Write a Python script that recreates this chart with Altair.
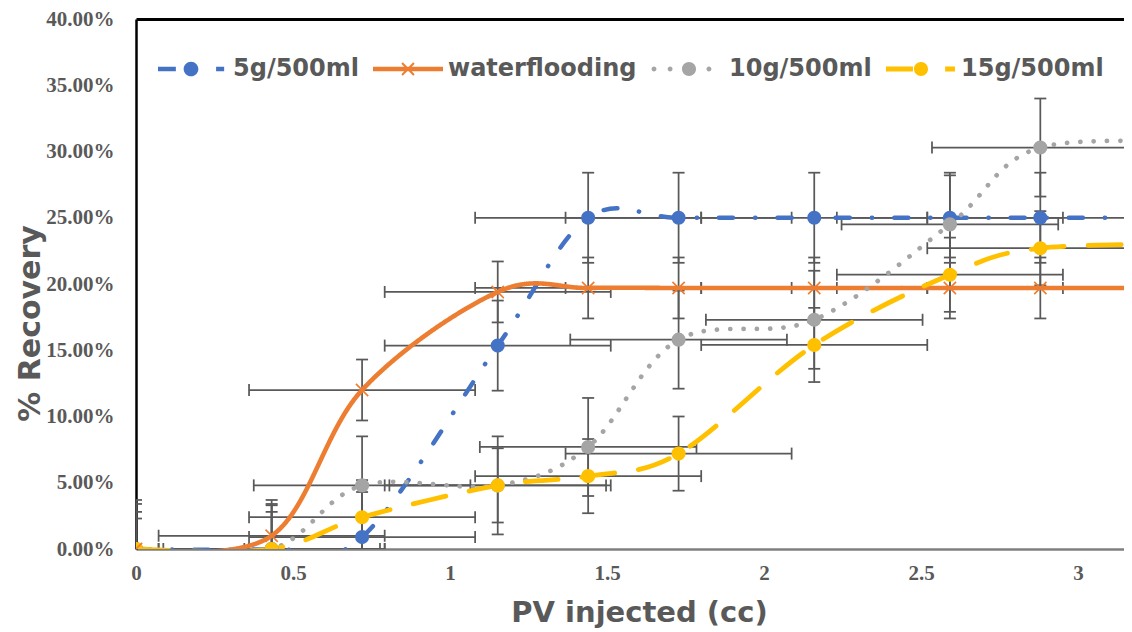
import altair as alt
import pandas as pd

# ---------------- data ----------------
pv_injected = [0, 0.432, 0.72, 1.152, 1.44, 1.728, 2.16, 2.592, 2.88, 3.456]
series_names = ["5g/500ml", "waterflooding", "10g/500ml", "15g/500ml"]
rec_5g = [0, 0, 0.9, 15.35, 25.0, 25.0, 25.0, 25.0, 25.0, 25.0]
rec_water = [0, 1.0, 12.0, 19.4, 19.7, 19.7, 19.7, 19.7, 19.7, 19.7]
rec_10g = [0, 0, 4.8, 4.8, 7.7, 15.8, 17.3, 24.5, 30.3, 30.5]
rec_15g = [0, 0, 2.4, 4.8, 5.5, 7.2, 15.4, 20.7, 22.7, 23.0]
x_error = [0.36, 0.36, 0.345, 0.36]          # +/- PV
y_error = [3.4, 2.3, 3.7, 2.8]               # +/- % recovery
x_ticks = [0, 0.5, 1, 1.5, 2, 2.5, 3]
y_ticks = [0, 0.05, 0.10, 0.15, 0.20, 0.25, 0.30, 0.35, 0.40]

# ---------------- styles ----------------
colors = ["#4472C4", "#ED7D31", "#A5A5A5", "#FFC000"]
dashes = [[14, 22, 0.3, 22], [1, 0], [0.1, 13.2], [33, 24]]
widths = [4.5, 4.8, 5, 5]
# legend symbols (line + marker), unit = half symbol width
legend_paths = [
    "M-1,-0.064L-0.49,-0.064L-0.49,0.064L-1,0.064Z"
    "M-0.267,0A0.21,0.21,0,1,1,0.153,0A0.21,0.21,0,1,1,-0.267,0Z"
    "M0.66,-0.064L0.89,-0.064L0.89,0.064L0.66,0.064Z",
    "M-1,-0.064L1,-0.064L1,0.064L-1,0.064Z"
    "M-0.19,-0.15L-0.15,-0.19L0.19,0.15L0.15,0.19Z"
    "M-0.19,0.15L0.15,-0.19L0.19,-0.15L-0.15,0.19Z",
    "M-1.07,0A0.07,0.07,0,1,1,-0.93,0A0.07,0.07,0,1,1,-1.07,0Z"
    "M-0.61,0A0.07,0.07,0,1,1,-0.47,0A0.07,0.07,0,1,1,-0.61,0Z"
    "M-0.2,0A0.2,0.2,0,1,1,0.2,0A0.2,0.2,0,1,1,-0.2,0Z"
    "M0.5,0A0.07,0.07,0,1,1,0.64,0A0.07,0.07,0,1,1,0.5,0Z",
    "M-1,-0.07L-0.23,-0.07L-0.23,0.07L-1,0.07Z"
    "M-0.2,0A0.2,0.2,0,1,1,0.2,0A0.2,0.2,0,1,1,-0.2,0Z"
    "M0.69,-0.07L0.97,-0.07L0.97,0.07L0.69,0.07Z",
]

rows = []
for name, vals, xe, ye in zip(series_names, [rec_5g, rec_water, rec_10g, rec_15g], x_error, y_error):
    for xv, yv in zip(pv_injected, vals):
        rows.append({"series": name, "x": xv, "y": yv / 100.0, "xerr": xe, "yerr": ye / 100.0})
df = pd.DataFrame(rows)

GREY_TXT = "#595959"
EB = "#595959"
PLOT_W = 988
X_MAX = PLOT_W / 314.0

xscale = alt.Scale(domain=[0, X_MAX], nice=False, zero=False)
yscale = alt.Scale(domain=[0, 0.40], nice=False)
color_scale = alt.Scale(domain=series_names, range=colors)

bottom_axis = alt.Axis(
    orient="bottom", values=x_ticks, format="~g", ticks=False, grid=False,
    labelFont="Liberation Serif", labelFontWeight="bold", labelFontSize=21,
    labelColor=GREY_TXT, labelPadding=13, labelFlush=False, labelOverlap=False,
    domainColor="#7f7f7f", domainWidth=2.5,
    title="PV injected (cc)", titleFont="DejaVu Sans", titleFontWeight="bold",
    titleFontSize=29, titleColor=GREY_TXT, titleX=503, titleY=72,
    titleBaseline="alphabetic", titleAlign="center",
)
left_axis = alt.Axis(
    orient="left", values=y_ticks, format=".2%", ticks=False, grid=False,
    labelFont="Liberation Serif", labelFontWeight="bold", labelFontSize=21,
    labelColor=GREY_TXT, labelPadding=22, labelOverlap=False,
    domainColor="black", domainWidth=2.5,
    title="% Recovery", titleFont="DejaVu Sans", titleFontWeight="bold",
    titleFontSize=30, titleColor=GREY_TXT, titleX=-106, titleY=304,
    titleAngle=270, titleBaseline="middle", titleAlign="center",
)
top_axis = alt.Axis(orient="top", labels=False, ticks=False, grid=False,
                    domainColor="black", domainWidth=3, title=None)

base = alt.Chart(df)
pts = base.transform_filter("datum.x < 3.1")
with_err = pts.transform_calculate(
    x_lo="datum.x - datum.xerr", x_hi="datum.x + datum.xerr",
    y_lo="datum.y - datum.yerr", y_hi="datum.y + datum.yerr",
)

err_h = with_err.mark_rule(color=EB, strokeWidth=1.75, clip=True).encode(
    x=alt.X("x_lo:Q", scale=xscale, axis=bottom_axis),
    x2="x_hi:Q",
    y=alt.Y("y:Q", scale=yscale, axis=left_axis),
)
cap_h = with_err.transform_fold(["x_lo", "x_hi"], as_=["end", "xe"]).mark_rule(
    color=EB, strokeWidth=1.75, clip=True, yOffset=-6, y2Offset=6
).encode(
    x=alt.X("xe:Q", scale=xscale, axis=None),
    y=alt.Y("y:Q", scale=yscale, axis=None),
    y2="y:Q",
)
err_v = with_err.mark_rule(color=EB, strokeWidth=1.75, clip=True).encode(
    x=alt.X("x:Q", scale=xscale, axis=None),
    y=alt.Y("y_lo:Q", scale=yscale, axis=None),
    y2="y_hi:Q",
)
cap_v = with_err.transform_fold(["y_lo", "y_hi"], as_=["end", "ye"]).mark_rule(
    color=EB, strokeWidth=1.75, clip=True, xOffset=-6, x2Offset=6
).encode(
    x=alt.X("x:Q", scale=xscale, axis=None),
    x2="x:Q",
    y=alt.Y("ye:Q", scale=yscale, axis=None),
)

lines = base.mark_line(interpolate="cardinal", strokeCap="round", clip=True).encode(
    x=alt.X("x:Q", scale=xscale, axis=None),
    y=alt.Y("y:Q", scale=yscale, axis=None),
    color=alt.Color("series:N", scale=color_scale, legend=None),
    strokeDash=alt.StrokeDash("series:N", scale=alt.Scale(domain=series_names, range=dashes), legend=None),
    strokeWidth=alt.StrokeWidth("series:N", scale=alt.Scale(domain=series_names, range=widths), legend=None),
)

circles = pts.transform_filter(alt.datum.series != "waterflooding").mark_circle(
    size=200, opacity=1, clip=True
).encode(
    x=alt.X("x:Q", scale=xscale, axis=None),
    y=alt.Y("y:Q", scale=yscale, axis=None),
    color=alt.Color("series:N", scale=color_scale, legend=None),
)
crosses = pts.transform_filter(alt.datum.series == "waterflooding").mark_point(
    shape="M-1,-1L1,1M-1,1L1,-1", size=150, filled=False, strokeWidth=1.6, opacity=1, clip=True
).encode(
    x=alt.X("x:Q", scale=xscale, axis=None),
    y=alt.Y("y:Q", scale=yscale, axis=None),
    color=alt.Color("series:N", scale=color_scale, legend=None),
)

leg = alt.Legend(
    title=None, orient="none", legendX=22, legendY=15, direction="horizontal",
    symbolSize=4900, symbolStrokeWidth=0, symbolOpacity=1,
    labelFont="DejaVu Sans", labelFontWeight="bold", labelFontSize=24,
    labelColor=GREY_TXT, labelOffset=5, columnPadding=14, padding=0, labelLimit=400,
)
legend_layer = base.transform_filter("datum.x < 0").mark_point(filled=True, opacity=1, size=4900).encode(
    x=alt.X("x:Q", scale=xscale, axis=top_axis),
    y=alt.Y("y:Q", scale=yscale, axis=None),
    color=alt.Color("series:N", scale=color_scale, legend=leg),
    shape=alt.Shape("series:N", scale=alt.Scale(domain=series_names, range=legend_paths), legend=leg),
)

chart = (
    alt.layer(err_h, cap_h, err_v, cap_v, lines, circles, crosses, legend_layer)
    .resolve_axis(x="independent", y="independent")
    .resolve_scale(color="independent", shape="independent")
    .properties(
        width=PLOT_W, height=530,
        padding={"left": 128, "top": 11, "right": 0, "bottom": 81},
        autosize=alt.AutoSizeParams(type="none"),
        background="white",
    )
    .configure_view(stroke=None)
)

chart.save("out.html", embed_options={"renderer": "svg", "actions": False})
